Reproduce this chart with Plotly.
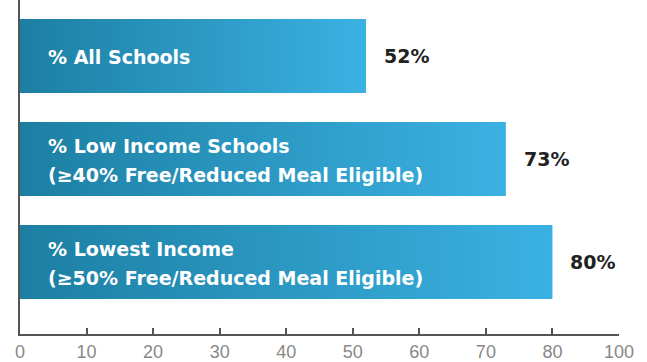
import plotly.graph_objects as go

categories = [
    "% All Schools",
    "% Low Income Schools\n(≥40% Free/Reduced Meal Eligible)",
    "% Lowest Income\n(≥50% Free/Reduced Meal Eligible)",
]
values = [52, 73, 80]
value_labels = ["52%", "73%", "80%"]
tick_labels = ["0", "10", "20", "30", "40", "50", "60", "70", "80", "100"]

BAR_HALF = 0.36
DARK = "#1c7fa2"
LIGHT = "#3bb1e3"

fig = go.Figure()
annotations = []
for i, (cat, v, lab) in enumerate(zip(categories, values, value_labels)):
    y0, y1 = i - BAR_HALF, i + BAR_HALF
    fig.add_trace(go.Scatter(
        x=[0, v, v, 0, 0], y=[y0, y0, y1, y1, y0],
        mode="lines", line=dict(width=0), fill="toself",
        fillgradient=dict(type="horizontal", colorscale=[[0, DARK], [1, LIGHT]]),
        hoverinfo="skip", showlegend=False,
    ))
    lines = cat.split("\n")
    n = len(lines)
    for k, ln in enumerate(lines):
        annotations.append(dict(
            x=0, y=i, xref="x", yref="y", text=ln, showarrow=False,
            xanchor="left", yanchor="middle", xshift=26,
            yshift=((n - 1) / 2 - k) * 29 - 1,
            font=dict(family="DejaVu Sans", size=19, color="white", weight="bold"),
        ))
    annotations.append(dict(
        x=v, y=i, xref="x", yref="y", text=lab, showarrow=False,
        xanchor="left", yanchor="middle", xshift=16,
        font=dict(family="DejaVu Sans", size=19, color="#222222", weight="bold"),
    ))

fig.update_layout(
    width=647, height=362,
    margin=dict(l=20, r=28, t=0, b=28),
    paper_bgcolor="white", plot_bgcolor="white",
    annotations=annotations,
    showlegend=False,
)
fig.update_xaxes(
    range=[0, 10 * (len(tick_labels) - 1)],
    tickvals=[10 * i for i in range(len(tick_labels))],
    ticktext=tick_labels,
    ticks="inside", ticklen=6, tickwidth=1.5, tickcolor="#555",
    showline=True, linecolor="#555", linewidth=2,
    showgrid=False, zeroline=False, automargin=False,
    tickfont=dict(family="Liberation Sans", size=18, color="#888"),
)
fig.update_yaxes(
    range=[2 + 72 / 103, -56 / 103],
    showticklabels=False, ticks="",
    showline=True, linecolor="#555", linewidth=2,
    showgrid=False, zeroline=False, automargin=False,
)
fig.write_html("out.html")
